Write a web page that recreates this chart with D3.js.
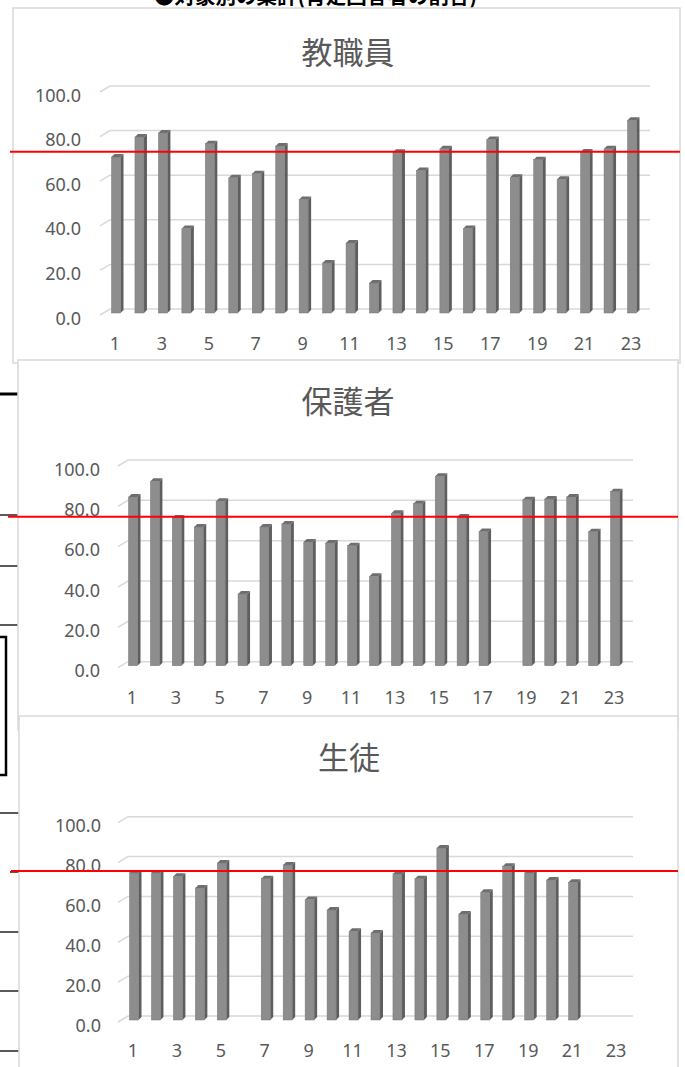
<!DOCTYPE html>
<html>
<head>
<meta charset="utf-8">
<script src="https://cdn.jsdelivr.net/npm/d3@7/dist/d3.min.js"></script>
<style>
  body { margin: 0; background: #fff; }
  text { font-family: "Noto Sans", "Noto Sans CJK JP", sans-serif; }
</style>
</head>
<body>
<svg id="page" width="685" height="1067"></svg>
<script>
// data
const categories = [1, 2, 3, 4, 5, 6, 7, 8, 9, 10, 11, 12, 13, 14, 15, 16, 17, 18, 19, 20, 21, 22, 23];
const xTickLabels = [1, 3, 5, 7, 9, 11, 13, 15, 17, 19, 21, 23];
const yTickValues = [0, 20, 40, 60, 80, 100];
const titles = ["教職員", "保護者", "生徒"];
const staffValues = [69.5, 78.5, 80.3, 37.4, 75.5, 60.2, 62.0, 74.4, 50.5, 22.0, 30.9, 13.0,
                     71.6, 63.5, 73.2, 37.4, 77.3, 60.4, 68.3, 59.5, 71.7, 73.2, 86.0];
const parentValues = [83.1, 90.9, 72.7, 68.3, 81.0, 35.1, 68.3, 69.8, 60.8, 60.3, 59.0, 43.8,
                      75.1, 79.8, 93.4, 73.2, 66.1, null, 81.8, 82.2, 83.1, 65.9, 85.8];
const studentValues = [73.3, 73.3, 71.6, 65.7, 78.3, null, 70.4, 77.3, 59.9, 54.7, 44.0, 43.2,
                       72.8, 70.4, 85.8, 52.7, 63.6, 76.6, 73.3, 69.7, 68.6, null, null];
const refValues = [70.5, 71.9, 72.8];   // red marker lines
const heading = "●対象別の集計(肯定回答者の割合)";

// layout of the three overlapping chart boxes
const layouts = [
    { box: [13, 8, 667, 355], titleX: 348, titleY: 52, grid: [110, 650], y0: 309, y100: 86,
      bars: [116, 632], labelRight: 81, xLabelY: 343, red: [10, 680] },
    { box: [18, 360, 660, 370], titleX: 348, titleY: 401, grid: [128, 633], y0: 661.7, y100: 460,
      bars: [133, 615], labelRight: 100, xLabelY: 697, red: [8, 678] },
    { box: [19, 716, 659, 370], titleX: 349, titleY: 757, grid: [128, 633], y0: 1016, y100: 816.7,
      bars: [134, 617], labelRight: 101, xLabelY: 1050, red: [11, 678] }
];
const seriesList = [staffValues, parentValues, studentValues];

var svg = d3.select("#page");

// page content behind the charts (heading is cut by the top edge, as in the scan)
svg.append("text")
    .attr("x", 154).attr("y", 4)
    .style("font-size", "20.5px").style("font-weight", "bold")
    .style("font-family", "'Noto Sans CJK JP', sans-serif")
    .attr("fill", "#000")
    .text(heading);

var bg = svg.append("g").attr("stroke", "#000");
bg.append("line").attr("x1", 0).attr("x2", 18).attr("y1", 394).attr("y2", 394).attr("stroke-width", 3);
[[0, 515], [0, 566], [0, 625], [0, 813], [10, 872], [0, 932], [0, 991], [0, 1051]].forEach(d => {
    bg.append("line").attr("x1", d[0]).attr("x2", 19).attr("y1", d[1]).attr("y2", d[1]).attr("stroke-width", 1.3);
});
bg.append("path").attr("d", "M0,637 H6 V775 H0").attr("fill", "none").attr("stroke-width", 2.5);

layouts.forEach((L, k) => {
    var values = seriesList[k];
    var g = svg.append("g");

    g.append("rect")
        .attr("x", L.box[0]).attr("y", L.box[1])
        .attr("width", L.box[2]).attr("height", L.box[3])
        .attr("fill", "#fff").attr("stroke", "#d9d9d9").attr("stroke-width", 1.5);

    g.append("text")
        .attr("x", L.titleX).attr("y", L.titleY)
        .attr("text-anchor", "middle").attr("dominant-baseline", "central")
        .style("font-size", "31px").attr("fill", "#595959")
        .text(titles[k]);

    var y = d3.scaleLinear().domain([0, 100]).range([L.y0, L.y100]);
    var x = d3.scaleLinear().domain([1, 23]).range(L.bars);

    // back wall gridlines with the little perspective corner
    g.append("g").selectAll("path")
        .data(yTickValues)
        .enter()
        .append("path")
        .attr("d", d => "M" + (L.grid[0] - 10) + "," + (y(d) + 6) + " L" + L.grid[0] + "," + y(d) + " H" + L.grid[1])
        .attr("fill", "none").attr("stroke", "#d9d9d9").attr("stroke-width", 1.5);

    g.append("g").selectAll("text")
        .data(yTickValues)
        .enter()
        .append("text")
        .attr("x", L.labelRight)
        .attr("y", d => y(d) + 8.5)
        .attr("text-anchor", "end").attr("dominant-baseline", "central")
        .style("font-size", "18px").attr("fill", "#595959")
        .text(d => d3.format(".1f")(d));

    g.append("g").selectAll("text")
        .data(xTickLabels)
        .enter()
        .append("text")
        .attr("x", d => x(d) - 1)
        .attr("y", L.xLabelY)
        .attr("text-anchor", "middle").attr("dominant-baseline", "central")
        .style("font-size", "18px").attr("fill", "#595959")
        .text(d => d);

    // 3d columns: front face, right side, top
    var bottom = y(0) + 4;
    var bars = g.append("g").selectAll("g")
        .data(categories.map((c, i) => ({ c: c, v: values[i] })).filter(d => d.v != null))
        .enter()
        .append("g");

    bars.append("path")
        .attr("d", d => {
            var cx = x(d.c), t = y(d.v) + 3;
            return "M" + (cx + 4.5) + "," + t + " L" + (cx + 7.5) + "," + (t - 3) +
                " V" + (bottom - 3) + " L" + (cx + 4.5) + "," + bottom + "Z";
        })
        .attr("fill", "#5e5e5e");

    bars.append("path")
        .attr("d", d => {
            var cx = x(d.c), t = y(d.v) + 3;
            return "M" + (cx - 4.5) + "," + t + " L" + (cx - 1.5) + "," + (t - 3) +
                " H" + (cx + 7.5) + " L" + (cx + 4.5) + "," + t + "Z";
        })
        .attr("fill", "#6e6e6e");

    bars.append("rect")
        .attr("x", d => x(d.c) - 4.5)
        .attr("y", d => y(d.v) + 3)
        .attr("width", 9)
        .attr("height", d => bottom - y(d.v) - 3)
        .attr("fill", "#8d8d8d")
        .attr("stroke", "#777").attr("stroke-width", 0.5);

    g.append("line")
        .attr("x1", L.red[0]).attr("x2", L.red[1])
        .attr("y1", y(refValues[k])).attr("y2", y(refValues[k]))
        .attr("stroke", "#ff0000").attr("stroke-width", 2);
});
</script>
</body>
</html>
